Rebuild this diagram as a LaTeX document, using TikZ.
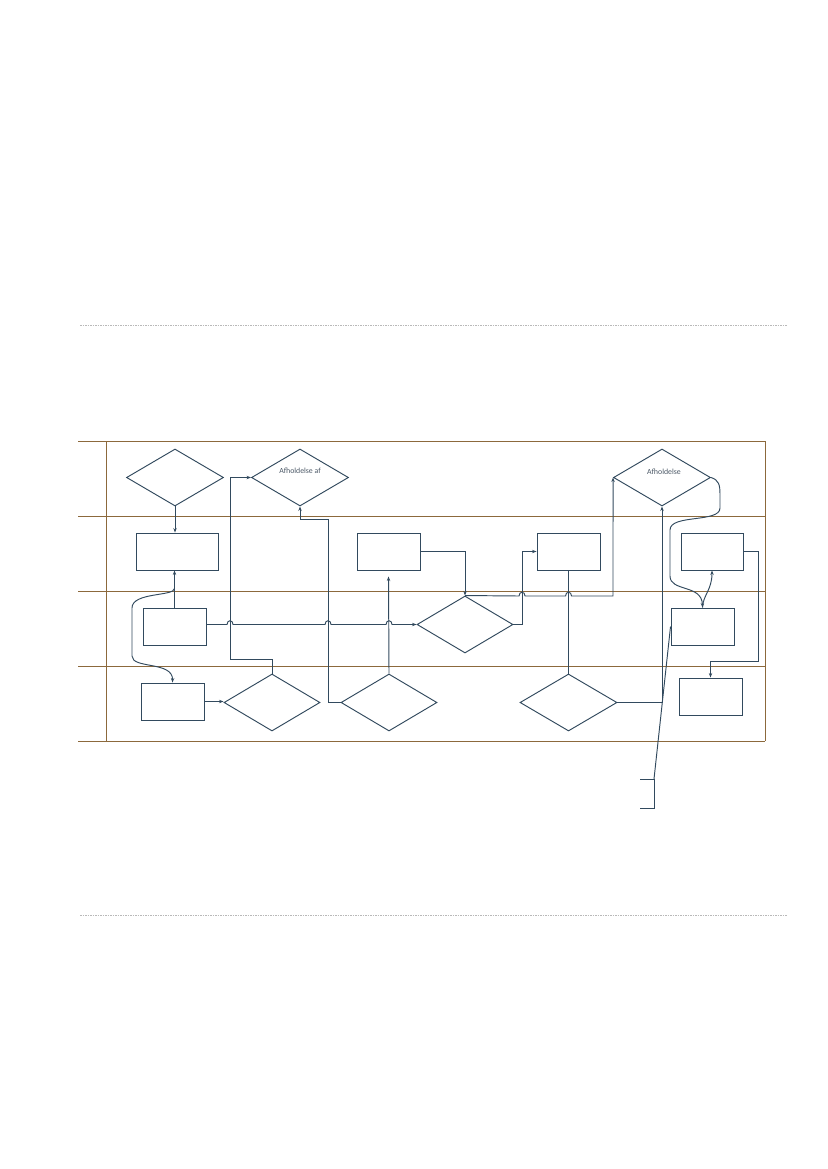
\documentclass[tikz,border=0pt]{standalone}
\usepackage{fontspec}
\setmainfont{Carlito}
\usetikzlibrary{shapes.geometric,arrows.meta}
\definecolor{ln}{RGB}{50,74,94}
\definecolor{lane}{RGB}{140,105,60}
\definecolor{sep}{RGB}{185,185,185}
\definecolor{txt}{RGB}{75,88,102}
\begin{document}
\begin{tikzpicture}[x=1pt,y=-1pt,
  box/.style={draw=ln, line width=0.95pt, rectangle, inner sep=0pt, minimum width=63pt, minimum height=37pt},
  dia/.style={draw=ln, line width=0.95pt, diamond, inner sep=0pt, minimum width=97pt, minimum height=57pt},
  conn/.style={draw=ln, line width=0.95pt},
  arr/.style={conn, -{Stealth[length=4.5pt,width=3.4pt]}},
  lanel/.style={draw=lane, line width=0.85pt},
  sepl/.style={draw=sep, line width=0.6pt, dash pattern=on 1.5pt off 1pt},
  lbl/.style={font=\fontsize{7.8}{9}\selectfont, text=txt}
]
\useasboundingbox (0,0) rectangle (827,1169);

% separators
\draw[sepl] (80,325) -- (787,325);
\draw[sepl] (80,915) -- (787,915);

% swimlanes
\foreach \yy in {441,516,591,666,741} \draw[lanel] (78,\yy) -- (765,\yy);
\draw[lanel] (106,441) -- (106,741);
\draw[lanel] (765,441) -- (765,741);

% nodes
\node[dia] (D1) at (175,477.5) {};
\node[dia, label={[lbl, yshift=6.5pt]center:Afholdelse af}] (D2) at (300,477.5) {};
\node[dia, label={[lbl, yshift=6pt, xshift=2pt]center:Afholdelse}] (D3) at (662,477.5) {};
\node[box, minimum width=82pt] (R1) at (177,551.5) {};
\node[box] (R2) at (388.5,551.5) {};
\node[box] (R3) at (568.5,551.5) {};
\node[box, minimum width=62pt] (R4) at (712,551.5) {};
\node[box] (R5) at (174.5,626.5) {};
\node[dia, minimum width=96pt] (D4) at (465,624.5) {};
\node[box] (R6) at (702.5,626.5) {};
\node[box] (R7) at (172.5,701.5) {};
\node[dia, minimum width=96pt] (D5) at (272,702.5) {};
\node[dia, minimum width=96pt] (D6) at (389,702.5) {};
\node[dia] (D7) at (568.5,702.5) {};
\node[box] (R8) at (710.5,696.5) {};
\coordinate (br) at (654,779);

% connectors
\draw[arr] (D1.south) -- (D1.south |- R1.north);
\draw[arr] (R5.north) -- (R5.north |- R1.south);
\draw[arr] (R5.north |- R1.south) -- ++(0,18) .. controls ++(0,8) and (132,592) .. (132,608)
   -- (132,656) .. controls (132,669) and (173,661) .. (R7.north);
\draw[arr] (R7.east) -- (R7.east -| D5.west);
\draw[arr] (D5.north) -- (272,659) -- (230,659) |- (D2.west);
\draw[arr] (D6.west) -- (328,702.5) -- (328,519) -- (300,519) -- (D2.south);
\draw[arr] (R5.east |- D4.west) -- (227,624.5) .. controls (227,619.5) and (233,619.5) .. (233,624.5)
   -- (325,624.5) .. controls (325,619.5) and (331,619.5) .. (331,624.5)
   -- (386,624.5) .. controls (386,619.5) and (392,619.5) .. (392,624.5)
   -- (D4.west);
\draw[arr] (D6.north) -- ([yshift=-6pt]R2.south);
\draw[arr] (R2.east) -| (D4.north);
\draw[arr] (D4.east) -- (522,624.5) |- (R3.west);
\draw[arr] (D4.north) -- (519,596) .. controls (519,591) and (525,591) .. (525,596)
   -- (565.5,596) .. controls (565.5,591) and (571.5,591) .. (571.5,596)
   -- (613,596) -- (D3.west);
\draw[conn] (R3.south) -- (D7.north);
\draw[arr] (D7.east) -| (D3.south);
\draw[arr] (D3.east) .. controls (719,480) and (720,485) .. (720,495) -- (720,508)
   .. controls (720,523) and (670,514) .. (670,530) -- (670,576)
   .. controls (670,592) and (702,584) .. (R6.north);
\draw[arr] (R6.north) .. controls (703,595) and (712,590) .. (R4.south);
\draw[arr] (R4.east) -- (758,551.5) -- (758,661) -- (710.5,661) -- (R8.north);
\draw[conn] (640,779) -- (br) -- (654,808) -- (640,808);
\draw[conn] (br) -- (R6.west);
\end{tikzpicture}
\end{document}
